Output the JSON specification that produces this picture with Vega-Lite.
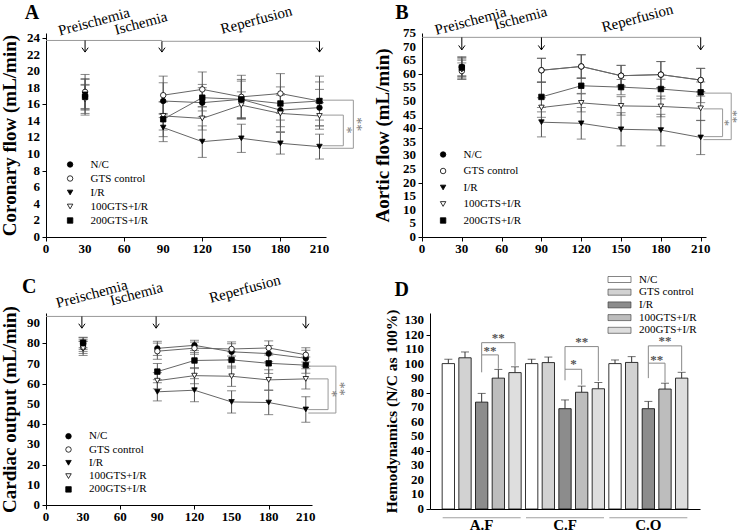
{
"$schema": "https://vega.github.io/schema/vega-lite/v6.json",
"background": "white",
"autosize": {"type": "none"},
"padding": {"left": 46, "top": 33, "right": 692, "bottom": 499},
"resolve": {"scale": {"fill": "independent", "shape": "independent", "stroke": "independent"}, "legend": {"fill": "independent", "shape": "independent", "stroke": "independent"}},
"config": {
 "font": "Liberation Serif",
 "view": {"stroke": null},
 "axis": {"labels": false, "titleFont": "Liberation Serif", "titleFontWeight": "bold", "titleFontSize": 19, "titleColor": "black", "domainColor": "black", "tickColor": "black", "grid": false, "tickSize": 4},
 "text": {"font": "Liberation Serif"},
 "legend": {"labelFont": "Liberation Serif", "labelFontSize": 11, "labelColor": "black", "padding": 0}
},
"datasets": {
 "lines": [
  {"p":"A","g":"N/C","t":30,"m":17.0,"lo":14.9,"hi":19.1},{"p":"A","g":"N/C","t":90,"m":16.4,"lo":14.4,"hi":18.6},{"p":"A","g":"N/C","t":120,"m":16.2,"lo":14.5,"hi":18.0},{"p":"A","g":"N/C","t":150,"m":16.6,"lo":14.2,"hi":19.0},{"p":"A","g":"N/C","t":180,"m":15.3,"lo":13.3,"hi":17.3},{"p":"A","g":"N/C","t":210,"m":15.6,"lo":13.4,"hi":17.8},
  {"p":"A","g":"GTS control","t":30,"m":17.5,"lo":15.4,"hi":19.6},{"p":"A","g":"GTS control","t":90,"m":17.1,"lo":14.8,"hi":19.4},{"p":"A","g":"GTS control","t":120,"m":17.8,"lo":15.7,"hi":19.9},{"p":"A","g":"GTS control","t":150,"m":16.9,"lo":14.3,"hi":19.5},{"p":"A","g":"GTS control","t":180,"m":17.3,"lo":14.9,"hi":19.7},{"p":"A","g":"GTS control","t":210,"m":16.4,"lo":14.1,"hi":18.7},
  {"p":"A","g":"I/R","t":30,"m":17.2,"lo":15.3,"hi":19.0},{"p":"A","g":"I/R","t":90,"m":13.2,"lo":11.5,"hi":14.9},{"p":"A","g":"I/R","t":120,"m":11.5,"lo":9.6,"hi":13.4},{"p":"A","g":"I/R","t":150,"m":11.9,"lo":10.2,"hi":13.6},{"p":"A","g":"I/R","t":180,"m":11.3,"lo":10.0,"hi":12.6},{"p":"A","g":"I/R","t":210,"m":10.9,"lo":9.4,"hi":12.4},
  {"p":"A","g":"100GTS+I/R","t":30,"m":16.6,"lo":14.7,"hi":18.4},{"p":"A","g":"100GTS+I/R","t":90,"m":14.6,"lo":12.9,"hi":16.3},{"p":"A","g":"100GTS+I/R","t":120,"m":14.3,"lo":12.9,"hi":15.7},{"p":"A","g":"100GTS+I/R","t":150,"m":15.9,"lo":14.3,"hi":17.5},{"p":"A","g":"100GTS+I/R","t":180,"m":14.9,"lo":12.7,"hi":17.1},{"p":"A","g":"100GTS+I/R","t":210,"m":14.6,"lo":13.0,"hi":16.2},
  {"p":"A","g":"200GTS+I/R","t":30,"m":16.9,"lo":15.5,"hi":18.3},{"p":"A","g":"200GTS+I/R","t":90,"m":14.2,"lo":12.1,"hi":16.3},{"p":"A","g":"200GTS+I/R","t":120,"m":16.8,"lo":15.2,"hi":18.4},{"p":"A","g":"200GTS+I/R","t":150,"m":16.6,"lo":14.4,"hi":18.8},{"p":"A","g":"200GTS+I/R","t":180,"m":16.1,"lo":14.1,"hi":18.1},{"p":"A","g":"200GTS+I/R","t":210,"m":16.4,"lo":13.4,"hi":19.4},

  {"p":"B","g":"N/C","t":30,"m":62.5,"lo":59.0,"hi":66.0},{"p":"B","g":"N/C","t":90,"m":61.3,"lo":56.9,"hi":65.7},{"p":"B","g":"N/C","t":120,"m":62.7,"lo":58.4,"hi":67.0},{"p":"B","g":"N/C","t":150,"m":59.3,"lo":55.5,"hi":63.1},{"p":"B","g":"N/C","t":180,"m":59.7,"lo":54.9,"hi":64.5},{"p":"B","g":"N/C","t":210,"m":57.7,"lo":53.4,"hi":62.0},
  {"p":"B","g":"GTS control","t":30,"m":61.0,"lo":58.0,"hi":64.0},{"p":"B","g":"GTS control","t":90,"m":61.3,"lo":56.9,"hi":65.7},{"p":"B","g":"GTS control","t":120,"m":62.7,"lo":58.4,"hi":67.0},{"p":"B","g":"GTS control","t":150,"m":59.3,"lo":55.5,"hi":63.1},{"p":"B","g":"GTS control","t":180,"m":59.7,"lo":54.9,"hi":64.5},{"p":"B","g":"GTS control","t":210,"m":57.7,"lo":53.4,"hi":62.0},
  {"p":"B","g":"I/R","t":30,"m":62.0,"lo":58.5,"hi":65.5},{"p":"B","g":"I/R","t":90,"m":42.2,"lo":36.8,"hi":47.6},{"p":"B","g":"I/R","t":120,"m":41.8,"lo":36.0,"hi":47.6},{"p":"B","g":"I/R","t":150,"m":39.6,"lo":33.5,"hi":45.7},{"p":"B","g":"I/R","t":180,"m":39.3,"lo":33.5,"hi":45.1},{"p":"B","g":"I/R","t":210,"m":36.6,"lo":30.3,"hi":42.9},
  {"p":"B","g":"100GTS+I/R","t":30,"m":61.5,"lo":58.0,"hi":65.0},{"p":"B","g":"100GTS+I/R","t":90,"m":47.6,"lo":44.0,"hi":51.2},{"p":"B","g":"100GTS+I/R","t":120,"m":49.3,"lo":46.0,"hi":52.6},{"p":"B","g":"100GTS+I/R","t":150,"m":48.2,"lo":44.8,"hi":51.6},{"p":"B","g":"100GTS+I/R","t":180,"m":48.0,"lo":44.2,"hi":51.8},{"p":"B","g":"100GTS+I/R","t":210,"m":47.3,"lo":42.8,"hi":51.8},
  {"p":"B","g":"200GTS+I/R","t":30,"m":62.3,"lo":59.3,"hi":66.3},{"p":"B","g":"200GTS+I/R","t":90,"m":51.5,"lo":46.0,"hi":57.0},{"p":"B","g":"200GTS+I/R","t":120,"m":55.6,"lo":52.8,"hi":58.4},{"p":"B","g":"200GTS+I/R","t":150,"m":55.1,"lo":52.3,"hi":57.9},{"p":"B","g":"200GTS+I/R","t":180,"m":54.4,"lo":50.8,"hi":58.0},{"p":"B","g":"200GTS+I/R","t":210,"m":53.2,"lo":49.4,"hi":57.0},

  {"p":"C","g":"N/C","t":30,"m":80.0,"lo":77.0,"hi":83.0},{"p":"C","g":"N/C","t":90,"m":77.5,"lo":74.0,"hi":81.0},{"p":"C","g":"N/C","t":120,"m":79.0,"lo":76.5,"hi":81.5},{"p":"C","g":"N/C","t":150,"m":75.8,"lo":71.8,"hi":79.8},{"p":"C","g":"N/C","t":180,"m":74.9,"lo":70.9,"hi":78.9},{"p":"C","g":"N/C","t":210,"m":72.6,"lo":68.6,"hi":76.6},
  {"p":"C","g":"GTS control","t":30,"m":78.0,"lo":75.0,"hi":81.0},{"p":"C","g":"GTS control","t":90,"m":76.1,"lo":72.1,"hi":80.1},{"p":"C","g":"GTS control","t":120,"m":77.6,"lo":74.6,"hi":80.6},{"p":"C","g":"GTS control","t":150,"m":77.2,"lo":73.7,"hi":80.7},{"p":"C","g":"GTS control","t":180,"m":77.7,"lo":74.2,"hi":81.2},{"p":"C","g":"GTS control","t":210,"m":74.3,"lo":70.8,"hi":77.8},
  {"p":"C","g":"I/R","t":30,"m":79.0,"lo":76.0,"hi":82.0},{"p":"C","g":"I/R","t":90,"m":56.0,"lo":51.5,"hi":60.5},{"p":"C","g":"I/R","t":120,"m":56.8,"lo":51.1,"hi":62.5},{"p":"C","g":"I/R","t":150,"m":51.0,"lo":45.5,"hi":56.5},{"p":"C","g":"I/R","t":180,"m":50.7,"lo":44.7,"hi":56.7},{"p":"C","g":"I/R","t":210,"m":47.3,"lo":41.0,"hi":53.6},
  {"p":"C","g":"100GTS+I/R","t":30,"m":77.5,"lo":74.0,"hi":81.0},{"p":"C","g":"100GTS+I/R","t":90,"m":61.5,"lo":57.5,"hi":65.5},{"p":"C","g":"100GTS+I/R","t":120,"m":64.0,"lo":60.0,"hi":68.0},{"p":"C","g":"100GTS+I/R","t":150,"m":63.7,"lo":58.7,"hi":68.7},{"p":"C","g":"100GTS+I/R","t":180,"m":61.9,"lo":56.9,"hi":66.9},{"p":"C","g":"100GTS+I/R","t":210,"m":62.4,"lo":57.4,"hi":67.4},
  {"p":"C","g":"200GTS+I/R","t":30,"m":80.3,"lo":77.8,"hi":82.8},{"p":"C","g":"200GTS+I/R","t":90,"m":66.0,"lo":62.0,"hi":70.0},{"p":"C","g":"200GTS+I/R","t":120,"m":71.5,"lo":67.5,"hi":75.5},{"p":"C","g":"200GTS+I/R","t":150,"m":71.8,"lo":67.8,"hi":75.8},{"p":"C","g":"200GTS+I/R","t":180,"m":70.1,"lo":65.1,"hi":75.1},{"p":"C","g":"200GTS+I/R","t":210,"m":69.2,"lo":65.2,"hi":73.2}
 ],
 "ytk": [
  {"p":"A","v":0},{"p":"A","v":2},{"p":"A","v":4},{"p":"A","v":6},{"p":"A","v":8},{"p":"A","v":10},{"p":"A","v":12},{"p":"A","v":14},{"p":"A","v":16},{"p":"A","v":18},{"p":"A","v":20},{"p":"A","v":22},{"p":"A","v":24},
  {"p":"B","v":0},{"p":"B","v":5},{"p":"B","v":10},{"p":"B","v":15},{"p":"B","v":20},{"p":"B","v":25},{"p":"B","v":30},{"p":"B","v":35},{"p":"B","v":40},{"p":"B","v":45},{"p":"B","v":50},{"p":"B","v":55},{"p":"B","v":60},{"p":"B","v":65},{"p":"B","v":70},{"p":"B","v":75},
  {"p":"C","v":0},{"p":"C","v":10},{"p":"C","v":20},{"p":"C","v":30},{"p":"C","v":40},{"p":"C","v":50},{"p":"C","v":60},{"p":"C","v":70},{"p":"C","v":80},{"p":"C","v":90},
  {"p":"D","v":0},{"p":"D","v":10},{"p":"D","v":20},{"p":"D","v":30},{"p":"D","v":40},{"p":"D","v":50},{"p":"D","v":60},{"p":"D","v":70},{"p":"D","v":80},{"p":"D","v":90},{"p":"D","v":100},{"p":"D","v":110},{"p":"D","v":120},{"p":"D","v":130}
 ],
 "xtk": [
  {"v":0},{"v":30},{"v":60},{"v":90},{"v":120},{"v":150},{"v":180},{"v":210}
 ],
 "seg": [
  {"p":"A","k":"tl","x":0,"x2":89,"y":23.7,"y2":23.7},{"p":"A","k":"tl","x":89,"x2":210,"y":23.6,"y2":23.6},
  {"p":"A","k":"ar","x":30,"x2":30,"y":23.7,"y2":22.3},{"p":"A","k":"ar","x":89,"x2":89,"y":23.6,"y2":22.3},{"p":"A","k":"ar","x":210,"x2":210,"y":23.6,"y2":22.3},
  {"p":"A","k":"br","x":212,"x2":236,"y":16.5,"y2":16.5},{"p":"A","k":"br","x":236,"x2":236,"y":16.5,"y2":10.7},{"p":"A","k":"br","x":212,"x2":236,"y":10.7,"y2":10.7},
  {"p":"A","k":"br","x":212,"x2":228.3,"y":14.7,"y2":14.7},{"p":"A","k":"br","x":228.3,"x2":228.3,"y":14.7,"y2":11.0},{"p":"A","k":"br","x":212,"x2":228.3,"y":11.0,"y2":11.0},
  {"p":"B","k":"tl","x":0,"x2":210,"y":73.4,"y2":73.4},
  {"p":"B","k":"ar","x":30,"x2":30,"y":73.4,"y2":68.8},{"p":"B","k":"ar","x":90,"x2":90,"y":73.4,"y2":68.8},{"p":"B","k":"ar","x":210,"x2":210,"y":73.4,"y2":68.8},
  {"p":"B","k":"br","x":212,"x2":233,"y":52.9,"y2":52.9},{"p":"B","k":"br","x":233,"x2":233,"y":52.9,"y2":35.8},{"p":"B","k":"br","x":212,"x2":233,"y":35.8,"y2":35.8},
  {"p":"B","k":"br","x":212,"x2":226.5,"y":47.1,"y2":47.1},{"p":"B","k":"br","x":226.5,"x2":226.5,"y":47.1,"y2":36.9},{"p":"B","k":"br","x":212,"x2":226.5,"y":36.9,"y2":36.9},
  {"p":"C","k":"tl","x":0,"x2":89,"y":93.3,"y2":93.3},{"p":"C","k":"tl","x":89,"x2":210,"y":93.3,"y2":93.3},
  {"p":"C","k":"ar","x":29,"x2":29,"y":93.3,"y2":87.5},{"p":"C","k":"ar","x":89,"x2":89,"y":93.3,"y2":87.5},{"p":"C","k":"ar","x":210,"x2":210,"y":93.3,"y2":87.5},
  {"p":"C","k":"br","x":212,"x2":234.3,"y":68.7,"y2":68.7},{"p":"C","k":"br","x":234.3,"x2":234.3,"y":68.7,"y2":45.5},{"p":"C","k":"br","x":212,"x2":234.3,"y":45.5,"y2":45.5},
  {"p":"C","k":"br","x":212,"x2":228,"y":62.4,"y2":62.4},{"p":"C","k":"br","x":228,"x2":228,"y":62.4,"y2":47.2},{"p":"C","k":"br","x":212,"x2":228,"y":47.2,"y2":47.2}
 ],
 "txt": [
  {"p":"A","k":"phase","label":"Preischemia","x":36.8,"y":26.0},{"p":"A","k":"phase","label":"Ischemia","x":72.8,"y":25.8},{"p":"A","k":"phase","label":"Reperfusion","x":161.4,"y":26.2},
  {"p":"A","k":"letter","label":"A","x":-10.8,"y":27.0},{"p":"A","k":"star","label":"*","x":230.3,"y":12.9},{"p":"A","k":"star","label":"**","x":238.3,"y":13.6},
  {"p":"B","k":"phase","label":"Preischemia","x":36.5,"y":79.5},{"p":"B","k":"phase","label":"Ischemia","x":74.2,"y":80.5},{"p":"B","k":"phase","label":"Reperfusion","x":162.2,"y":80.5},
  {"p":"B","k":"letter","label":"B","x":-15.1,"y":82.2},{"p":"B","k":"star","label":"*","x":228.4,"y":42.0},{"p":"B","k":"star","label":"**","x":234.0,"y":44.3},
  {"p":"C","k":"phase","label":"Preischemia","x":36.9,"y":104.5},{"p":"C","k":"phase","label":"Ischemia","x":73.0,"y":104.5},{"p":"C","k":"phase","label":"Reperfusion","x":160.7,"y":107.0},
  {"p":"C","k":"letter","label":"C","x":-13.5,"y":107.8},{"p":"C","k":"star","label":"*","x":230.0,"y":55.0},{"p":"C","k":"star","label":"**","x":236.5,"y":57.5}
 ],
 "bars": [
  {"cat":"A.F","g":"N/C","key":"A.F|N/C","v":100,"e":103},{"cat":"A.F","g":"GTS control","key":"A.F|GTS control","v":104,"e":108},{"cat":"A.F","g":"I/R","key":"A.F|I/R","v":73.5,"e":79.5},{"cat":"A.F","g":"100GTS+I/R","key":"A.F|100GTS+I/R","v":90,"e":96},{"cat":"A.F","g":"200GTS+I/R","key":"A.F|200GTS+I/R","v":93.8,"e":97.8},
  {"cat":"C.F","g":"N/C","key":"C.F|N/C","v":100,"e":103},{"cat":"C.F","g":"GTS control","key":"C.F|GTS control","v":100.7,"e":104.5},{"cat":"C.F","g":"I/R","key":"C.F|I/R","v":69,"e":75},{"cat":"C.F","g":"100GTS+I/R","key":"C.F|100GTS+I/R","v":80.3,"e":84.5},{"cat":"C.F","g":"200GTS+I/R","key":"C.F|200GTS+I/R","v":82.7,"e":87},
  {"cat":"C.O","g":"N/C","key":"C.O|N/C","v":100,"e":102.5},{"cat":"C.O","g":"GTS control","key":"C.O|GTS control","v":100.8,"e":104.8},{"cat":"C.O","g":"I/R","key":"C.O|I/R","v":69,"e":74},{"cat":"C.O","g":"100GTS+I/R","key":"C.O|100GTS+I/R","v":82.5,"e":86.5},{"cat":"C.O","g":"200GTS+I/R","key":"C.O|200GTS+I/R","v":90,"e":94}
 ],
 "dbr": [
  {"kind":"lower","from":"A.F|I/R","to":"A.F|100GTS+I/R","ytop":106,"yl":94,"yr":96.5,"star":"**","sy":108.8},
  {"kind":"upper","from":"A.F|I/R","to":"A.F|200GTS+I/R","ytop":114.4,"yl":106,"yr":98.5,"star":"**","sy":117.6,"mid":"A.F|100GTS+I/R"},
  {"kind":"lower","from":"C.F|I/R","to":"C.F|100GTS+I/R","ytop":96.1,"yl":88.5,"yr":85.5,"star":"*","sy":99.5},
  {"kind":"upper","from":"C.F|I/R","to":"C.F|200GTS+I/R","ytop":111.7,"yl":96.1,"yr":88,"star":"**","sy":115,"mid":"C.F|100GTS+I/R"},
  {"kind":"lower","from":"C.O|I/R","to":"C.O|100GTS+I/R","ytop":100.3,"yl":90,"yr":87,"star":"**","sy":102.8},
  {"kind":"upper","from":"C.O|I/R","to":"C.O|200GTS+I/R","ytop":112.2,"yl":100.3,"yr":95,"star":"**","sy":115.2,"mid":"C.O|100GTS+I/R"}
 ],
 "dcat": [
  {"key":"A.F|I/R","label":"A.F"},{"key":"C.F|I/R","label":"C.F"},{"key":"C.O|I/R","label":"C.O"}
 ]
},
"vconcat": [
 {"hconcat": [
  {"width": 280, "height": 204,
   "layer": [
    {"data": {"name": "lines"}, "transform": [{"filter": "datum.p == 'A'"}], "mark": {"type": "rule", "color": "#555", "strokeWidth": 1},
     "encoding": {"x": {"field": "t", "type": "quantitative", "scale": {"domain": [0, 215], "nice": false}, "axis": {"values": [0,30,60,90,120,150,180,210], "title": null}},
                  "y": {"field": "lo", "type": "quantitative", "scale": {"domain": [0, 24.6], "nice": false}, "axis": {"values": [0,2,4,6,8,10,12,14,16,18,20,22,24], "title": "Coronary flow (mL/min)", "titlePadding": 22}},
                  "y2": {"field": "hi"}}},
    {"data": {"name": "ytk"}, "transform": [{"filter": "datum.p == 'A'"}], "mark": {"type": "text", "align": "right", "baseline": "middle", "dx": -6, "fontSize": 13, "fontWeight": "bold", "color": "black"},
     "encoding": {"x": {"datum": 0, "type": "quantitative"}, "y": {"field": "v", "type": "quantitative"}, "text": {"field": "v", "type": "quantitative"}}},
    {"data": {"name": "xtk"}, "mark": {"type": "text", "align": "center", "baseline": "top", "dy": 6, "fontSize": 13, "fontWeight": "bold", "color": "black"},
     "encoding": {"x": {"field": "v", "type": "quantitative"}, "y": {"datum": 0, "type": "quantitative"}, "text": {"field": "v", "type": "quantitative"}}},
    {"data": {"name": "lines"}, "transform": [{"filter": "datum.p == 'A'"}], "mark": {"type": "tick", "orient": "horizontal", "color": "#555", "size": 9, "thickness": 1},
     "encoding": {"x": {"field": "t", "type": "quantitative"}, "y": {"field": "lo", "type": "quantitative"}}},
    {"data": {"name": "lines"}, "transform": [{"filter": "datum.p == 'A'"}], "mark": {"type": "tick", "orient": "horizontal", "color": "#555", "size": 9, "thickness": 1},
     "encoding": {"x": {"field": "t", "type": "quantitative"}, "y": {"field": "hi", "type": "quantitative"}}},
    {"data": {"name": "lines"}, "transform": [{"filter": "datum.p == 'A' && datum.t >= 90"}], "mark": {"type": "line", "color": "#666", "strokeWidth": 1},
     "encoding": {"x": {"field": "t", "type": "quantitative"}, "y": {"field": "m", "type": "quantitative"}, "detail": {"field": "g"}}},
    {"data": {"name": "lines"}, "transform": [{"filter": "datum.p == 'A'"}], "mark": {"type": "point", "filled": true, "strokeWidth": 0.8, "size": 30, "opacity": 1},
     "encoding": {"x": {"field": "t", "type": "quantitative"}, "y": {"field": "m", "type": "quantitative"},
       "stroke": {"field": "g", "type": "nominal", "scale": {"domain": ["N/C","GTS control","I/R","100GTS+I/R","200GTS+I/R"], "range": ["black","black","black","black","black"]}, "legend": {"title": null, "orient": "none", "legendX": 18.6, "legendY": 126, "rowPadding": 2, "labelOffset": 15, "symbolSize": 30, "symbolStrokeWidth": 0.8}},
       "shape": {"field": "g", "type": "nominal", "scale": {"domain": ["N/C","GTS control","I/R","100GTS+I/R","200GTS+I/R"], "range": ["circle","circle","triangle-down","triangle-down","square"]}, "legend": {"title": null, "orient": "none", "legendX": 18.6, "legendY": 126, "rowPadding": 2, "labelOffset": 15, "symbolSize": 30, "symbolStrokeWidth": 0.8}},
       "fill": {"field": "g", "type": "nominal", "scale": {"domain": ["N/C","GTS control","I/R","100GTS+I/R","200GTS+I/R"], "range": ["black","white","black","white","black"]}, "legend": {"title": null, "orient": "none", "legendX": 18.6, "legendY": 126, "rowPadding": 2, "labelOffset": 15, "symbolSize": 30, "symbolStrokeWidth": 0.8}}}},
    {"data": {"name": "seg"}, "transform": [{"filter": "datum.p == 'A' && datum.k == 'tl'"}], "mark": {"type": "rule", "color": "#999", "strokeWidth": 1},
     "encoding": {"x": {"field": "x", "type": "quantitative"}, "x2": {"field": "x2"}, "y": {"field": "y", "type": "quantitative"}, "y2": {"field": "y2"}}},
    {"data": {"name": "seg"}, "transform": [{"filter": "datum.p == 'A' && datum.k == 'br'"}], "mark": {"type": "rule", "color": "#999", "strokeWidth": 1},
     "encoding": {"x": {"field": "x", "type": "quantitative"}, "x2": {"field": "x2"}, "y": {"field": "y", "type": "quantitative"}, "y2": {"field": "y2"}}},
    {"data": {"name": "seg"}, "transform": [{"filter": "datum.p == 'A' && datum.k == 'ar'"}], "mark": {"type": "rule", "color": "black", "strokeWidth": 1},
     "encoding": {"x": {"field": "x", "type": "quantitative"}, "x2": {"field": "x2"}, "y": {"field": "y", "type": "quantitative"}, "y2": {"field": "y2"}}},
    {"data": {"name": "seg"}, "transform": [{"filter": "datum.p == 'A' && datum.k == 'ar'"}], "mark": {"type": "point", "shape": "M-1,-1.4L0,0L1,-1.4", "filled": false, "stroke": "black", "strokeWidth": 1, "size": 40, "opacity": 1},
     "encoding": {"x": {"field": "x", "type": "quantitative"}, "y": {"field": "y2", "type": "quantitative"}}},
    {"data": {"name": "txt"}, "transform": [{"filter": "datum.p == 'A' && datum.k == 'phase'"}], "mark": {"type": "text", "fontSize": 15, "angle": -15, "align": "center", "baseline": "middle", "color": "black"},
     "encoding": {"x": {"field": "x", "type": "quantitative"}, "y": {"field": "y", "type": "quantitative"}, "text": {"field": "label"}}},
    {"data": {"name": "txt"}, "transform": [{"filter": "datum.p == 'A' && datum.k == 'letter'"}], "mark": {"type": "text", "fontSize": 20, "fontWeight": "bold", "align": "center", "baseline": "middle", "color": "black"},
     "encoding": {"x": {"field": "x", "type": "quantitative"}, "y": {"field": "y", "type": "quantitative"}, "text": {"field": "label"}}},
    {"data": {"name": "txt"}, "transform": [{"filter": "datum.p == 'A' && datum.k == 'star'"}], "mark": {"type": "text", "fontSize": 14, "angle": 90, "align": "center", "baseline": "middle", "color": "#777"},
     "encoding": {"x": {"field": "x", "type": "quantitative"}, "y": {"field": "y", "type": "quantitative"}, "text": {"field": "label"}}}
   ]},
  {"width": 284, "height": 204,
   "layer": [
    {"data": {"name": "lines"}, "transform": [{"filter": "datum.p == 'B'"}], "mark": {"type": "rule", "color": "#555", "strokeWidth": 1},
     "encoding": {"x": {"field": "t", "type": "quantitative", "scale": {"domain": [0, 214], "nice": false}, "axis": {"values": [0,30,60,90,120,150,180,210], "title": null}},
                  "y": {"field": "lo", "type": "quantitative", "scale": {"domain": [0, 75], "nice": false}, "axis": {"values": [0,5,10,15,20,25,30,35,40,45,50,55,60,65,70,75], "title": "Aortic flow (mL/min)", "titlePadding": 25}},
                  "y2": {"field": "hi"}}},
    {"data": {"name": "ytk"}, "transform": [{"filter": "datum.p == 'B'"}], "mark": {"type": "text", "align": "right", "baseline": "middle", "dx": -6, "fontSize": 13, "fontWeight": "bold", "color": "black"},
     "encoding": {"x": {"datum": 0, "type": "quantitative"}, "y": {"field": "v", "type": "quantitative"}, "text": {"field": "v", "type": "quantitative"}}},
    {"data": {"name": "xtk"}, "mark": {"type": "text", "align": "center", "baseline": "top", "dy": 6, "fontSize": 13, "fontWeight": "bold", "color": "black"},
     "encoding": {"x": {"field": "v", "type": "quantitative"}, "y": {"datum": 0, "type": "quantitative"}, "text": {"field": "v", "type": "quantitative"}}},
    {"data": {"name": "lines"}, "transform": [{"filter": "datum.p == 'B'"}], "mark": {"type": "tick", "orient": "horizontal", "color": "#555", "size": 9, "thickness": 1},
     "encoding": {"x": {"field": "t", "type": "quantitative"}, "y": {"field": "lo", "type": "quantitative"}}},
    {"data": {"name": "lines"}, "transform": [{"filter": "datum.p == 'B'"}], "mark": {"type": "tick", "orient": "horizontal", "color": "#555", "size": 9, "thickness": 1},
     "encoding": {"x": {"field": "t", "type": "quantitative"}, "y": {"field": "hi", "type": "quantitative"}}},
    {"data": {"name": "lines"}, "transform": [{"filter": "datum.p == 'B' && datum.t >= 90"}], "mark": {"type": "line", "color": "#666", "strokeWidth": 1},
     "encoding": {"x": {"field": "t", "type": "quantitative"}, "y": {"field": "m", "type": "quantitative"}, "detail": {"field": "g"}}},
    {"data": {"name": "lines"}, "transform": [{"filter": "datum.p == 'B'"}], "mark": {"type": "point", "filled": true, "strokeWidth": 0.8, "size": 30, "opacity": 1},
     "encoding": {"x": {"field": "t", "type": "quantitative"}, "y": {"field": "m", "type": "quantitative"},
       "stroke": {"field": "g", "type": "nominal", "scale": {"domain": ["N/C","GTS control","I/R","100GTS+I/R","200GTS+I/R"], "range": ["black","black","black","black","black"]}, "legend": {"title": null, "orient": "none", "legendX": 15.6, "legendY": 116, "rowPadding": 4.5, "labelOffset": 15, "symbolSize": 30, "symbolStrokeWidth": 0.8}},
       "shape": {"field": "g", "type": "nominal", "scale": {"domain": ["N/C","GTS control","I/R","100GTS+I/R","200GTS+I/R"], "range": ["circle","circle","triangle-down","triangle-down","square"]}, "legend": {"title": null, "orient": "none", "legendX": 15.6, "legendY": 116, "rowPadding": 4.5, "labelOffset": 15, "symbolSize": 30, "symbolStrokeWidth": 0.8}},
       "fill": {"field": "g", "type": "nominal", "scale": {"domain": ["N/C","GTS control","I/R","100GTS+I/R","200GTS+I/R"], "range": ["black","white","black","white","black"]}, "legend": {"title": null, "orient": "none", "legendX": 15.6, "legendY": 116, "rowPadding": 4.5, "labelOffset": 15, "symbolSize": 30, "symbolStrokeWidth": 0.8}}}},
    {"data": {"name": "seg"}, "transform": [{"filter": "datum.p == 'B' && datum.k == 'tl'"}], "mark": {"type": "rule", "color": "#999", "strokeWidth": 1},
     "encoding": {"x": {"field": "x", "type": "quantitative"}, "x2": {"field": "x2"}, "y": {"field": "y", "type": "quantitative"}, "y2": {"field": "y2"}}},
    {"data": {"name": "seg"}, "transform": [{"filter": "datum.p == 'B' && datum.k == 'br'"}], "mark": {"type": "rule", "color": "#999", "strokeWidth": 1},
     "encoding": {"x": {"field": "x", "type": "quantitative"}, "x2": {"field": "x2"}, "y": {"field": "y", "type": "quantitative"}, "y2": {"field": "y2"}}},
    {"data": {"name": "seg"}, "transform": [{"filter": "datum.p == 'B' && datum.k == 'ar'"}], "mark": {"type": "rule", "color": "black", "strokeWidth": 1},
     "encoding": {"x": {"field": "x", "type": "quantitative"}, "x2": {"field": "x2"}, "y": {"field": "y", "type": "quantitative"}, "y2": {"field": "y2"}}},
    {"data": {"name": "seg"}, "transform": [{"filter": "datum.p == 'B' && datum.k == 'ar'"}], "mark": {"type": "point", "shape": "M-1,-1.4L0,0L1,-1.4", "filled": false, "stroke": "black", "strokeWidth": 1, "size": 40, "opacity": 1},
     "encoding": {"x": {"field": "x", "type": "quantitative"}, "y": {"field": "y2", "type": "quantitative"}}},
    {"data": {"name": "txt"}, "transform": [{"filter": "datum.p == 'B' && datum.k == 'phase'"}], "mark": {"type": "text", "fontSize": 15, "angle": -15, "align": "center", "baseline": "middle", "color": "black"},
     "encoding": {"x": {"field": "x", "type": "quantitative"}, "y": {"field": "y", "type": "quantitative"}, "text": {"field": "label"}}},
    {"data": {"name": "txt"}, "transform": [{"filter": "datum.p == 'B' && datum.k == 'letter'"}], "mark": {"type": "text", "fontSize": 20, "fontWeight": "bold", "align": "center", "baseline": "middle", "color": "black"},
     "encoding": {"x": {"field": "x", "type": "quantitative"}, "y": {"field": "y", "type": "quantitative"}, "text": {"field": "label"}}},
    {"data": {"name": "txt"}, "transform": [{"filter": "datum.p == 'B' && datum.k == 'star'"}], "mark": {"type": "text", "fontSize": 13, "angle": 90, "align": "center", "baseline": "middle", "color": "#777"},
     "encoding": {"x": {"field": "x", "type": "quantitative"}, "y": {"field": "y", "type": "quantitative"}, "text": {"field": "label"}}}
   ]}
 ], "spacing": 96, "bounds": "flush", "resolve": {"scale": {"fill": "independent", "shape": "independent", "stroke": "independent"}, "legend": {"fill": "independent", "shape": "independent", "stroke": "independent"}}},
 {"hconcat": [
  {"width": 266, "height": 192,
   "layer": [
    {"data": {"name": "lines"}, "transform": [{"filter": "datum.p == 'C'"}], "mark": {"type": "rule", "color": "#555", "strokeWidth": 1},
     "encoding": {"x": {"field": "t", "type": "quantitative", "scale": {"domain": [0, 215], "nice": false}, "axis": {"values": [0,30,60,90,120,150,180,210], "title": null}},
                  "y": {"field": "lo", "type": "quantitative", "scale": {"domain": [0, 95], "nice": false}, "axis": {"values": [0,10,20,30,40,50,60,70,80,90], "title": "Cardiac output (mL/min)", "titlePadding": 22}},
                  "y2": {"field": "hi"}}},
    {"data": {"name": "ytk"}, "transform": [{"filter": "datum.p == 'C'"}], "mark": {"type": "text", "align": "right", "baseline": "middle", "dx": -6, "fontSize": 13, "fontWeight": "bold", "color": "black"},
     "encoding": {"x": {"datum": 0, "type": "quantitative"}, "y": {"field": "v", "type": "quantitative"}, "text": {"field": "v", "type": "quantitative"}}},
    {"data": {"name": "xtk"}, "mark": {"type": "text", "align": "center", "baseline": "top", "dy": 6, "fontSize": 13, "fontWeight": "bold", "color": "black"},
     "encoding": {"x": {"field": "v", "type": "quantitative"}, "y": {"datum": 0, "type": "quantitative"}, "text": {"field": "v", "type": "quantitative"}}},
    {"data": {"name": "lines"}, "transform": [{"filter": "datum.p == 'C'"}], "mark": {"type": "tick", "orient": "horizontal", "color": "#555", "size": 9, "thickness": 1},
     "encoding": {"x": {"field": "t", "type": "quantitative"}, "y": {"field": "lo", "type": "quantitative"}}},
    {"data": {"name": "lines"}, "transform": [{"filter": "datum.p == 'C'"}], "mark": {"type": "tick", "orient": "horizontal", "color": "#555", "size": 9, "thickness": 1},
     "encoding": {"x": {"field": "t", "type": "quantitative"}, "y": {"field": "hi", "type": "quantitative"}}},
    {"data": {"name": "lines"}, "transform": [{"filter": "datum.p == 'C' && datum.t >= 90"}], "mark": {"type": "line", "color": "#666", "strokeWidth": 1},
     "encoding": {"x": {"field": "t", "type": "quantitative"}, "y": {"field": "m", "type": "quantitative"}, "detail": {"field": "g"}}},
    {"data": {"name": "lines"}, "transform": [{"filter": "datum.p == 'C'"}], "mark": {"type": "point", "filled": true, "strokeWidth": 0.8, "size": 30, "opacity": 1},
     "encoding": {"x": {"field": "t", "type": "quantitative"}, "y": {"field": "m", "type": "quantitative"},
       "stroke": {"field": "g", "type": "nominal", "scale": {"domain": ["N/C","GTS control","I/R","100GTS+I/R","200GTS+I/R"], "range": ["black","black","black","black","black"]}, "legend": {"title": null, "orient": "none", "legendX": 17, "legendY": 117.7, "rowPadding": 1.3, "labelOffset": 15, "symbolSize": 30, "symbolStrokeWidth": 0.8}},
       "shape": {"field": "g", "type": "nominal", "scale": {"domain": ["N/C","GTS control","I/R","100GTS+I/R","200GTS+I/R"], "range": ["circle","circle","triangle-down","triangle-down","square"]}, "legend": {"title": null, "orient": "none", "legendX": 17, "legendY": 117.7, "rowPadding": 1.3, "labelOffset": 15, "symbolSize": 30, "symbolStrokeWidth": 0.8}},
       "fill": {"field": "g", "type": "nominal", "scale": {"domain": ["N/C","GTS control","I/R","100GTS+I/R","200GTS+I/R"], "range": ["black","white","black","white","black"]}, "legend": {"title": null, "orient": "none", "legendX": 17, "legendY": 117.7, "rowPadding": 1.3, "labelOffset": 15, "symbolSize": 30, "symbolStrokeWidth": 0.8}}}},
    {"data": {"name": "seg"}, "transform": [{"filter": "datum.p == 'C' && datum.k == 'tl'"}], "mark": {"type": "rule", "color": "#999", "strokeWidth": 1},
     "encoding": {"x": {"field": "x", "type": "quantitative"}, "x2": {"field": "x2"}, "y": {"field": "y", "type": "quantitative"}, "y2": {"field": "y2"}}},
    {"data": {"name": "seg"}, "transform": [{"filter": "datum.p == 'C' && datum.k == 'br'"}], "mark": {"type": "rule", "color": "#999", "strokeWidth": 1},
     "encoding": {"x": {"field": "x", "type": "quantitative"}, "x2": {"field": "x2"}, "y": {"field": "y", "type": "quantitative"}, "y2": {"field": "y2"}}},
    {"data": {"name": "seg"}, "transform": [{"filter": "datum.p == 'C' && datum.k == 'ar'"}], "mark": {"type": "rule", "color": "black", "strokeWidth": 1},
     "encoding": {"x": {"field": "x", "type": "quantitative"}, "x2": {"field": "x2"}, "y": {"field": "y", "type": "quantitative"}, "y2": {"field": "y2"}}},
    {"data": {"name": "seg"}, "transform": [{"filter": "datum.p == 'C' && datum.k == 'ar'"}], "mark": {"type": "point", "shape": "M-1,-1.4L0,0L1,-1.4", "filled": false, "stroke": "black", "strokeWidth": 1, "size": 40, "opacity": 1},
     "encoding": {"x": {"field": "x", "type": "quantitative"}, "y": {"field": "y2", "type": "quantitative"}}},
    {"data": {"name": "txt"}, "transform": [{"filter": "datum.p == 'C' && datum.k == 'phase'"}], "mark": {"type": "text", "fontSize": 15, "angle": -15, "align": "center", "baseline": "middle", "color": "black"},
     "encoding": {"x": {"field": "x", "type": "quantitative"}, "y": {"field": "y", "type": "quantitative"}, "text": {"field": "label"}}},
    {"data": {"name": "txt"}, "transform": [{"filter": "datum.p == 'C' && datum.k == 'letter'"}], "mark": {"type": "text", "fontSize": 20, "fontWeight": "bold", "align": "center", "baseline": "middle", "color": "black"},
     "encoding": {"x": {"field": "x", "type": "quantitative"}, "y": {"field": "y", "type": "quantitative"}, "text": {"field": "label"}}},
    {"data": {"name": "txt"}, "transform": [{"filter": "datum.p == 'C' && datum.k == 'star'"}], "mark": {"type": "text", "fontSize": 14, "angle": 90, "align": "center", "baseline": "middle", "color": "#777"},
     "encoding": {"x": {"field": "x", "type": "quantitative"}, "y": {"field": "y", "type": "quantitative"}, "text": {"field": "label"}}}
   ]},
  {"width": 270, "height": 196,
   "layer": [
    {"data": {"name": "bars"}, "mark": {"type": "bar", "stroke": "black", "strokeWidth": 0.8},
     "encoding": {"x": {"field": "key", "type": "nominal", "scale": {"domain": ["A.F|N/C","A.F|GTS control","A.F|I/R","A.F|100GTS+I/R","A.F|200GTS+I/R","C.F|N/C","C.F|GTS control","C.F|I/R","C.F|100GTS+I/R","C.F|200GTS+I/R","C.O|N/C","C.O|GTS control","C.O|I/R","C.O|100GTS+I/R","C.O|200GTS+I/R"], "paddingInner": 0.26, "paddingOuter": 0.73}, "axis": {"ticks": false, "title": null, "domain": true}},
                  "y": {"field": "v", "type": "quantitative", "scale": {"domain": [0, 134.8], "nice": false}, "axis": {"values": [0,10,20,30,40,50,60,70,80,90,100,110,120,130], "title": "Hemodynamics (N/C as 100%)", "titleFontSize": 15.5, "titlePadding": 26}},
                  "fill": {"field": "g", "type": "nominal", "scale": {"domain": ["N/C","GTS control","I/R","100GTS+I/R","200GTS+I/R"], "range": ["white","#d2d2d2","#8c8c8c","#bdbdbd","#dedede"]}, "legend": {"title": null, "orient": "none", "legendX": 184, "legendY": -39, "rowPadding": 0.7, "labelOffset": 14, "symbolType": "M-2.3,-0.6H2.3V0.6H-2.3Z", "symbolSize": 100, "symbolStrokeColor": "#333", "symbolStrokeWidth": 0.6}}}},
    {"data": {"name": "ytk"}, "transform": [{"filter": "datum.p == 'D'"}], "mark": {"type": "text", "align": "right", "baseline": "middle", "dx": -6, "fontSize": 13, "fontWeight": "bold", "color": "black"},
     "encoding": {"x": {"datum": "A.F|N/C", "type": "nominal", "bandPosition": -0.99}, "y": {"field": "v", "type": "quantitative"}, "text": {"field": "v", "type": "quantitative"}}},
    {"data": {"name": "bars"}, "mark": {"type": "rule", "color": "#333", "strokeWidth": 1},
     "encoding": {"x": {"field": "key", "type": "nominal"}, "y": {"field": "v", "type": "quantitative"}, "y2": {"field": "e"}}},
    {"data": {"name": "bars"}, "mark": {"type": "tick", "orient": "horizontal", "color": "#333", "size": 8, "thickness": 1},
     "encoding": {"x": {"field": "key", "type": "nominal"}, "y": {"field": "e", "type": "quantitative"}}},
    {"data": {"name": "dcat"}, "mark": {"type": "tick", "orient": "horizontal", "color": "#777", "size": 78, "thickness": 1},
     "encoding": {"x": {"field": "key", "type": "nominal"}, "y": {"datum": -6, "type": "quantitative"}}},
    {"data": {"name": "dcat"}, "mark": {"type": "text", "fontSize": 15, "fontWeight": "bold", "align": "center", "baseline": "middle", "color": "black"},
     "encoding": {"x": {"field": "key", "type": "nominal"}, "y": {"datum": -11.3, "type": "quantitative"}, "text": {"field": "label"}}},
    {"data": {"name": "dbr"}, "mark": {"type": "rule", "color": "#888", "strokeWidth": 1},
     "encoding": {"x": {"field": "from", "type": "nominal"}, "x2": {"field": "to"}, "y": {"field": "ytop", "type": "quantitative"}}},
    {"data": {"name": "dbr"}, "mark": {"type": "rule", "color": "#888", "strokeWidth": 1},
     "encoding": {"x": {"field": "from", "type": "nominal"}, "y": {"field": "ytop", "type": "quantitative"}, "y2": {"field": "yl"}}},
    {"data": {"name": "dbr"}, "mark": {"type": "rule", "color": "#888", "strokeWidth": 1},
     "encoding": {"x": {"field": "to", "type": "nominal"}, "y": {"field": "ytop", "type": "quantitative"}, "y2": {"field": "yr"}}},
    {"data": {"name": "dbr"}, "transform": [{"filter": "datum.kind == 'lower'"}], "mark": {"type": "text", "fontSize": 13, "fontWeight": "bold", "align": "center", "baseline": "middle", "color": "#555"},
     "encoding": {"x": {"field": "from", "type": "nominal", "bandPosition": 1.18}, "y": {"field": "sy", "type": "quantitative"}, "text": {"field": "star"}}},
    {"data": {"name": "dbr"}, "transform": [{"filter": "datum.kind == 'upper'"}], "mark": {"type": "text", "fontSize": 13, "fontWeight": "bold", "align": "center", "baseline": "middle", "color": "#555"},
     "encoding": {"x": {"field": "mid", "type": "nominal"}, "y": {"field": "sy", "type": "quantitative"}, "text": {"field": "star"}}},
    {"data": {"values": [{"key": "A.F|N/C", "label": "D", "y": 150.6}]}, "mark": {"type": "text", "fontSize": 20, "fontWeight": "bold", "align": "center", "baseline": "middle", "color": "black"},
     "encoding": {"x": {"field": "key", "type": "nominal", "bandPosition": -3.28}, "y": {"field": "y", "type": "quantitative"}, "text": {"field": "label"}}}
   ]}
 ], "spacing": 118, "bounds": "flush", "resolve": {"scale": {"fill": "independent", "shape": "independent", "stroke": "independent"}, "legend": {"fill": "independent", "shape": "independent", "stroke": "independent"}}}
],
"spacing": 280,
"bounds": "flush"
}
